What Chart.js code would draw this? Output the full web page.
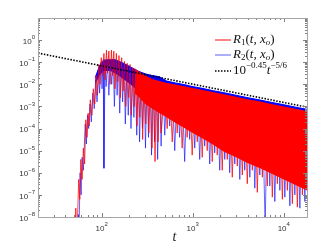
<!DOCTYPE html>
<html>
<head>
<meta charset="utf-8">
<script src="https://cdn.jsdelivr.net/npm/chart.js@4"></script>
<style>
  html, body { margin: 0; padding: 0; background: #fff; }
  #wrap { width: 332px; height: 250px; position: relative; }
</style>
</head>
<body>
<div id="wrap"><canvas id="chart"></canvas></div>
<script>
// --- data (t on a log axis, R on a log axis) ---

// R1 oscillation: alternating crest / trough samples
const tR1 = [50, 52, 53.5, 56, 57.5, 59, 61, 63, 65, 67, 69, 71, 73, 75, 78, 81, 84, 87, 90, 93, 96, 99, 102, 106, 109,
  113, 116, 120, 124, 128, 132, 136, 140, 145, 150, 155, 160, 166, 172, 178, 184, 191, 198, 205, 212, 220, 228, 236,
  244, 253, 262, 272, 282, 293, 305, 317, 330, 343, 357, 372, 386, 400, 416, 433, 450,
  493, 524, 559, 596, 635, 676, 718, 766, 816, 869, 927, 987, 1053, 1122, 1194, 1272, 1355, 1444, 1538, 1639, 1745,
  1860, 1981, 2110, 2250, 2397, 2550, 2720, 2900, 3090, 3290, 3505, 3730, 3975, 4240, 4515, 4810, 5125, 5460, 5820,
  6200, 6600, 7030, 7490, 7980, 8500, 9060, 9650, 10280, 10950, 11670, 12430, 13240, 14110, 15030, 16010, 17060, 17900];
const r1 = [1e-10, 2.5e-8, 1e-9, 5.0e-7, 6.3e-8, 4.0e-6, 5.0e-7, 1.3e-5, 2.5e-6, 2.5e-4, 4.0e-5, 5.0e-4, 1.3e-4, 2.0e-3,
  4.0e-4, 6.3e-3, 1.3e-3, 2.5e-2, 3.2e-3, 7.9e-2, 1.0e-2, 0.16, 2.5e-2, 0.25, 1.6e-2,
  0.35, 3.2e-2, 0.32, 1.0e-2, 0.35, 2.5e-2, 0.32, 6.3e-3, 0.25, 1.3e-2, 0.2, 2.5e-3, 0.16, 5.0e-3, 0.11, 1.0e-3,
  8.9e-2, 2.5e-3, 7.9e-2, 4.0e-4, 5.6e-2, 1.0e-3, 5.0e-2,
  1.3e-4, 3.5e-2, 3.2e-4, 3.2e-2, 3.2e-5, 2.5e-2, 1.6e-4, 2.2e-2, 6.3e-5, 2.0e-2, 1.3e-5, 1.8e-2, 3.2e-6, 1.6e-2,
  2.5e-5, 1.4e-2, 6.3e-5,
  1.1e-2, 1.0e-4, 1.0e-2, 2.5e-5, 9.3e-3, 6.3e-5, 8.5e-3, 1.3e-5, 7.6e-3, 4.0e-5, 6.9e-3, 6.3e-6, 6.2e-3, 2.5e-5,
  5.6e-3, 5.0e-6, 5.0e-3, 1.0e-5, 4.6e-3, 3.2e-6, 4.1e-3,
  6.3e-6, 3.6e-3, 1.3e-6, 3.3e-3, 4.0e-6, 3.0e-3, 6.3e-7, 2.7e-3, 2.0e-6, 2.4e-3, 7.9e-7, 2.2e-3, 3.2e-7, 1.9e-3,
  1.3e-6, 1.8e-3, 1.3e-7, 1.6e-3, 6.3e-7,
  1.4e-3, 2.5e-7, 1.3e-3, 7.9e-8, 1.1e-3, 3.2e-7, 1.0e-3, 6.3e-8, 9.3e-4, 1.6e-7, 8.5e-4, 4.0e-8, 7.6e-4, 2.8e-8,
  6.9e-4, 1.0e-7, 6.2e-4, 5.9e-4];

// R1 dense part: upper edge and lower edge of the filled band
const tR1Band = [230, 260, 300, 360, 430, 520, 650, 800, 1000, 1300, 1700, 2200, 3000, 4000, 5500, 7500, 10000, 13500, 18000];
const r1Top = [5.0e-2, 3.5e-2, 2.4e-2, 1.6e-2, 1.35e-2, 1.1e-2, 9.3e-3, 7.8e-3, 6.5e-3, 5.2e-3, 4.2e-3, 3.4e-3,
  2.6e-3, 2.0e-3, 1.6e-3, 1.2e-3, 9.5e-4, 7.4e-4, 5.9e-4];
const r1Low = [4.0e-3, 2.5e-3, 1.3e-3, 7.9e-4, 5.0e-4, 3.2e-4, 1.8e-4, 1.1e-4, 6.3e-5, 3.5e-5, 1.8e-5, 8.9e-6,
  5.0e-6, 2.8e-6, 1.6e-6, 8.9e-7, 5.0e-7, 2.8e-7, 1.6e-7];

// R2 oscillation
const tR2 = [53, 55.5, 56.5, 58, 59.5, 61, 63, 66, 68, 70, 72, 74.5, 77, 80, 83, 86, 89, 92, 95, 98, 101, 104, 106,
  109, 112, 116, 120, 125, 129, 134, 138, 143, 148, 153, 158, 164, 170, 176, 182, 189, 196, 203, 210, 218, 226, 234,
  243, 252, 261, 271, 281, 292, 303, 315, 327, 340, 353, 367, 381, 396, 412, 430, 450,
  472, 493, 524, 559, 596, 635, 676, 718, 766, 816, 869, 927, 987, 1053, 1122, 1194, 1272, 1355, 1444, 1538, 1639,
  1745, 1860, 1981, 2110, 2250, 2397, 2550, 2720, 2900, 3090, 3290, 3505, 3730, 3975, 4240, 4515, 4810, 5125, 5460,
  5820, 6250, 6600, 7030, 7490, 7980, 8500, 9060, 9650, 10280, 10950, 11670, 12430, 13240, 14110, 15030, 16010,
  17060, 17900];
const r2 = [1e-10, 1.3e-8, 2.5e-9, 1.0e-6, 1.0e-7, 5.0e-6, 1.3e-6, 1.6e-4, 2.0e-5, 4.0e-4, 1.0e-4, 1.3e-3, 2.0e-4,
  4.0e-3, 7.9e-4, 1.6e-2, 1.6e-3, 4.0e-2, 4.0e-3, 0.1, 6.3e-3, 0.13, 1.6e-6,
  0.13, 7.9e-3, 0.13, 3.2e-3, 0.13, 1.0e-2, 0.13, 1.0e-3, 0.11, 3.2e-3, 0.1, 5.0e-4, 8.9e-2, 1.6e-3, 7.1e-2, 1.6e-4,
  5.6e-2, 4.0e-4, 4.5e-2, 1.0e-4, 3.5e-2, 3.2e-4, 3.2e-2,
  5.0e-5, 2.8e-2, 2.5e-5, 2.5e-2, 1.0e-4, 2.5e-2, 1.3e-5, 2.5e-2, 4.0e-5, 2.5e-2, 6.3e-6, 2.5e-2, 2.5e-5, 2.4e-2,
  4.0e-6, 2.2e-2, 1.6e-5,
  1.6e-2, 5.0e-5, 1.4e-2, 1.3e-4, 1.2e-2, 1.0e-5, 1.1e-2, 4.0e-5, 1.0e-2, 3.2e-6, 9.1e-3, 3.2e-5, 8.3e-3, 1.3e-5,
  7.4e-3, 4.0e-6, 6.8e-3, 1.6e-5, 6.0e-3, 2.5e-6, 5.4e-3,
  7.9e-6, 4.9e-3, 1.3e-6, 4.4e-3, 4.0e-6, 4.0e-3, 1.0e-6, 3.5e-3, 2.5e-6, 3.2e-3, 5.0e-7, 2.9e-3, 1.3e-6, 2.6e-3,
  6.3e-7, 2.3e-3, 2.0e-7, 2.1e-3, 7.9e-7,
  1.9e-3, 3.2e-9, 1.7e-3, 2.5e-7, 1.55e-3, 5.0e-8, 1.4e-3, 1.6e-7, 1.2e-3, 7.9e-8, 1.1e-3, 3.2e-8, 1.0e-3, 1.0e-7,
  9.1e-4, 2.5e-8, 8.3e-4, 5.0e-8, 7.4e-4];

const tR2Band = [85, 95, 105, 115, 125, 140, 160, 185, 215, 250, 300, 360, 430, 520, 650, 800, 1000, 1300, 1700,
  2200, 3000, 4000, 5500, 7500, 10000, 13500, 18000];
const r2Top = [2.0e-2, 7.1e-2, 0.12, 0.13, 0.13, 0.13, 0.105, 7.9e-2, 5.6e-2, 4.0e-2, 3.0e-2, 2.5e-2, 2.2e-2,
  1.4e-2, 1.15e-2, 9.8e-3, 7.9e-3, 6.5e-3, 5.1e-3, 4.2e-3, 3.2e-3, 2.5e-3, 1.95e-3, 1.5e-3, 1.2e-3, 9.3e-4, 7.4e-4];
const r2Low = [1.0e-2, 2.5e-2, 4.0e-2, 4.0e-2, 4.0e-2, 3.2e-2, 2.2e-2, 1.4e-2, 8.9e-3, 5.0e-3, 3.2e-3, 2.0e-3,
  1.3e-3, 7.9e-4, 4.5e-4, 2.8e-4, 1.6e-4, 8.9e-5, 4.5e-5, 2.5e-5, 1.3e-5, 6.3e-6, 3.5e-6, 2.0e-6, 1.1e-6, 5.6e-7, 3.2e-7];

// reference power law 10^-0.45 t^-5/6 (end points as drawn)
const tFit = [20, 18000];
const fitVals = [0.26, 9.3e-4];

// axis ticks
const xTickVals = [100, 1000, 10000];
const yTickVals = [1e-8, 1e-7, 1e-6, 1e-5, 1e-4, 1e-3, 1e-2, 1e-1, 1];

const pts = (ts, vs) => ts.map((t, i) => ({ x: t, y: vs[i] }));

// 위첨자 지수 붙인 10^n 라벨 그리기
function drawPow(ctx, x, y, exp, align) {
  const base = '10';
  const sup = String(exp).replace('-', '\u2212');
  ctx.font = '8px "Liberation Sans", Arial, sans-serif';
  const wb = ctx.measureText(base).width;
  ctx.font = '6px "Liberation Sans", Arial, sans-serif';
  const ws = ctx.measureText(sup).width;
  let x0;
  if (align === 'right') x0 = x - wb - ws;
  else x0 = x - (wb + ws) / 2;
  ctx.textBaseline = 'middle';
  ctx.textAlign = 'left';
  ctx.font = '8px "Liberation Sans", Arial, sans-serif';
  ctx.fillText(base, x0, y + 1.5);
  ctx.font = '6px "Liberation Sans", Arial, sans-serif';
  ctx.fillText(sup, x0 + wb, y - 2.5);
}

// 이탤릭/첨자 섞인 문자열
function drawRich(ctx, x, y, parts) {
  ctx.textBaseline = 'middle';
  ctx.textAlign = 'left';
  for (const p of parts) {
    const size = p.s ? 9 : 13;
    ctx.font = (p.i ? 'italic ' : '') + size + 'px "Liberation Serif", "DejaVu Serif", serif';
    ctx.fillText(p.t, x, y + (p.dy || 0));
    x += ctx.measureText(p.t).width;
  }
}

const axesBox = {
  id: 'axesBox',
  afterDraw(chart) {
    const { ctx, chartArea: a, scales: { x, y } } = chart;
    ctx.save();

    // ticks (inward, on all four sides)
    ctx.strokeStyle = '#808080';
    ctx.lineWidth = 1;
    ctx.beginPath();
    for (let d = 1; d <= 4; d++) {
      for (let k = 1; k <= 9; k++) {
        const v = k * Math.pow(10, d);
        if (v < x.min || v > x.max) continue;
        const px = Math.round(x.getPixelForValue(v)) + 0.5;
        const len = k === 1 ? 4 : 2;
        ctx.moveTo(px, a.bottom); ctx.lineTo(px, a.bottom - len);
        ctx.moveTo(px, a.top); ctx.lineTo(px, a.top + len);
      }
    }
    for (let d = -8; d <= 0; d++) {
      for (let k = 1; k <= 9; k++) {
        const v = k * Math.pow(10, d);
        if (v < y.min || v > y.max) continue;
        const py = Math.round(y.getPixelForValue(v)) + 0.5;
        const len = k === 1 ? 4 : 2;
        ctx.moveTo(a.left, py); ctx.lineTo(a.left + len, py);
        ctx.moveTo(a.right, py); ctx.lineTo(a.right - len, py);
      }
    }
    ctx.stroke();

    // frame
    ctx.strokeStyle = '#a6a6a6';
    ctx.strokeRect(Math.round(a.left) + 0.5, Math.round(a.top) + 0.5,
      Math.round(a.right - a.left), Math.round(a.bottom - a.top));

    // tick labels
    ctx.fillStyle = '#333';
    yTickVals.forEach(v => drawPow(ctx, a.left - 3, y.getPixelForValue(v), Math.round(Math.log10(v)), 'right'));
    xTickVals.forEach(v => drawPow(ctx, x.getPixelForValue(v), a.bottom + 10, Math.round(Math.log10(v)), 'center'));

    // x axis title
    ctx.fillStyle = '#222';
    ctx.font = 'italic 14px "Liberation Serif", "DejaVu Serif", serif';
    ctx.textAlign = 'center';
    ctx.textBaseline = 'middle';
    ctx.fillText('t', (a.left + a.right) / 2 + 2, 237);

    // legend
    const rows = [
      { y: 40, color: 'rgba(255,0,0,0.8)', dash: [], parts: [{ t: 'R', i: 1 }, { t: '1', s: 1, dy: 3 }, { t: '(' }, { t: 't', i: 1 }, { t: ', ' }, { t: 'x', i: 1 }, { t: 'o', i: 1, s: 1, dy: 3 }, { t: ')' }] },
      { y: 55, color: 'rgba(60,60,255,0.7)', dash: [], parts: [{ t: 'R', i: 1 }, { t: '2', s: 1, dy: 3 }, { t: '(' }, { t: 't', i: 1 }, { t: ', ' }, { t: 'x', i: 1 }, { t: 'o', i: 1, s: 1, dy: 3 }, { t: ')' }] },
      { y: 71, color: '#000', dash: [1.5, 1.5], parts: [{ t: '10' }, { t: '\u22120.45', s: 1, dy: -5 }, { t: 't', i: 1 }, { t: '\u22125/6', s: 1, dy: -5 }] }
    ];
    rows.forEach(r => {
      ctx.strokeStyle = r.color;
      ctx.lineWidth = r.dash.length ? 1.6 : 1.2;
      ctx.setLineDash(r.dash);
      ctx.beginPath();
      ctx.moveTo(215, r.y); ctx.lineTo(231, r.y);
      ctx.stroke();
      ctx.setLineDash([]);
      ctx.fillStyle = '#111';
      drawRich(ctx, 233, r.y, r.parts);
    });
    ctx.restore();
  }
};

new Chart(document.getElementById('chart'), {
  type: 'line',
  data: {
    datasets: [
      { label: 'fit', data: pts(tFit, fitVals), borderColor: '#000', borderWidth: 1.6, borderDash: [1.5, 1.5], pointRadius: 0, fill: false },
      { label: 'R1', data: pts(tR1, r1), borderColor: 'rgba(255,0,0,0.75)', borderWidth: 1, pointRadius: 0, fill: false },
      { label: 'R1 top', data: pts(tR1Band, r1Top), borderColor: '#ff0000', borderWidth: 1, pointRadius: 0, fill: '+1', backgroundColor: '#ff0000' },
      { label: 'R1 low', data: pts(tR1Band, r1Low), borderColor: 'rgba(255,0,0,0)', borderWidth: 0, pointRadius: 0, fill: false },
      { label: 'R2', data: pts(tR2, r2), borderColor: 'rgba(0,0,255,0.6)', borderWidth: 1, pointRadius: 0, fill: false },
      { label: 'R2 top', data: pts(tR2Band, r2Top), borderColor: '#0000ff', borderWidth: 1, pointRadius: 0, fill: '+1', backgroundColor: '#0000ff' },
      { label: 'R2 low', data: pts(tR2Band, r2Low), borderColor: 'rgba(0,0,255,0)', borderWidth: 0, pointRadius: 0, fill: false }
    ]
  },
  options: {
    responsive: true,
    maintainAspectRatio: false,
    animation: false,
    layout: { padding: { left: 38, right: 25, top: 18, bottom: 33 } },
    elements: { line: { tension: 0 } },
    plugins: { legend: { display: false }, tooltip: { enabled: false } },
    scales: {
      x: { type: 'logarithmic', display: false, min: 20, max: 18000 },
      y: { type: 'logarithmic', display: false, min: 1e-8, max: 10 }
    }
  },
  plugins: [axesBox]
});
</script>
</body>
</html>
